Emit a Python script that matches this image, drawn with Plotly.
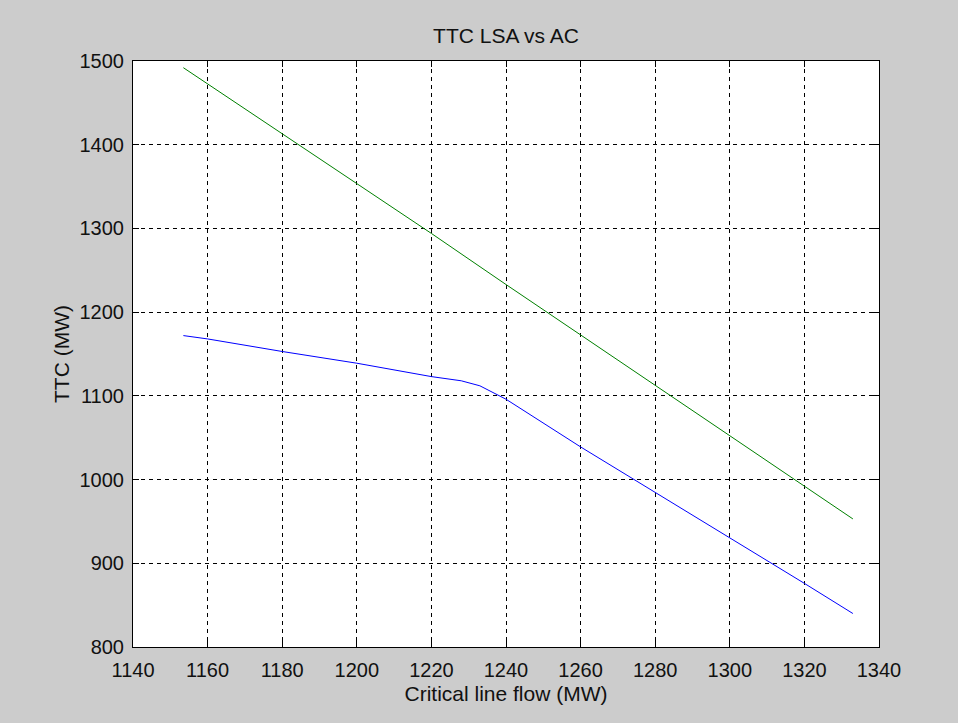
import plotly.graph_objects as go

# Data
ac_x = [1153.5, 1160, 1180, 1200, 1220, 1228, 1233, 1240, 1260, 1280, 1300, 1320, 1333]
ac_y = [1172, 1168, 1153, 1139, 1123, 1118, 1112, 1096, 1039, 985, 930, 876, 840]

lsa_x = [1153.5, 1180, 1200, 1220, 1240, 1260, 1280, 1300, 1320, 1333]
lsa_y = [1492, 1413, 1353, 1294, 1233, 1173, 1112, 1052, 993, 953]

x_ticks = [1140, 1160, 1180, 1200, 1220, 1240, 1260, 1280, 1300, 1320, 1340]
y_ticks = [800, 900, 1000, 1100, 1200, 1300, 1400, 1500]

font_family = "Liberation Sans, Arial, sans-serif"
FS_TICK = 20
FS_TEXT = 21

fig = go.Figure()
fig.add_trace(go.Scatter(x=ac_x, y=ac_y, mode="lines",
                         line=dict(color="#0000ff", width=1), showlegend=False))
fig.add_trace(go.Scatter(x=lsa_x, y=lsa_y, mode="lines",
                         line=dict(color="#008000", width=1), showlegend=False))

axis_common = dict(
    showline=True, linecolor="black", linewidth=1, mirror="ticks",
    ticks="inside", ticklen=6, tickcolor="black",
    showgrid=True, gridcolor="black", gridwidth=1, griddash="4px,4px",
    zeroline=False, tickfont=dict(family=font_family, size=FS_TICK, color="#111111"),
)

fig.update_layout(
    width=958, height=723,
    margin=dict(l=133, r=79, t=61, b=76),
    paper_bgcolor="#cccccc", plot_bgcolor="white",
    title=dict(text="TTC LSA vs AC", x=(133 + 879) / 2 / 958, xanchor="center",
               y=1 - 36 / 723, yanchor="middle",
               font=dict(family=font_family, size=FS_TEXT, color="#111111")),
    xaxis=dict(range=[1140, 1340], tickvals=x_ticks, ticklabelstandoff=5,
               title=dict(text="Critical line flow (MW)", standoff=6,
                          font=dict(family=font_family, size=FS_TEXT, color="#111111")),
               **axis_common),
    yaxis=dict(range=[800, 1500], tickvals=y_ticks, ticklabelstandoff=4,
               title=dict(text="TTC (MW)", standoff=4,
                          font=dict(family=font_family, size=FS_TEXT, color="#111111")),
               **axis_common),
)

fig.write_html("out.html")
